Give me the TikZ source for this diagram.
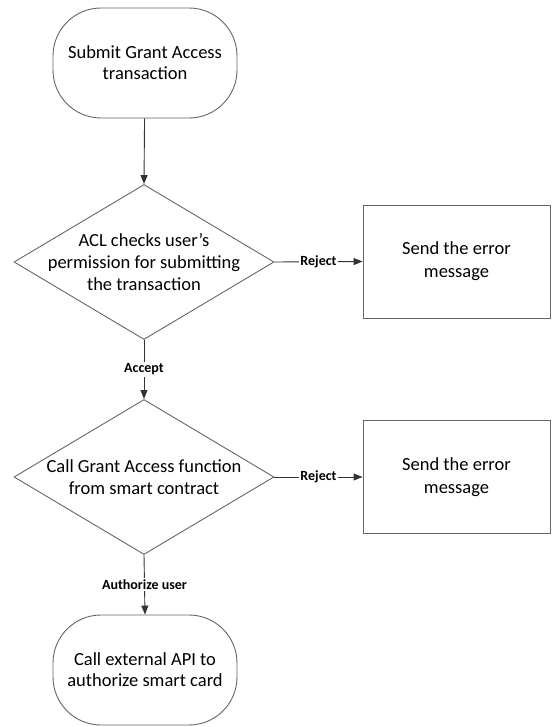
\documentclass[tikz,border=0pt]{standalone}
\usepackage{fontspec}
\setmainfont{Carlito}
\usetikzlibrary{shapes.geometric,arrows.meta}

\tikzset{
  terminal/.style={draw=black!60, line width=0.9pt, rectangle, rounded corners=48pt,
    minimum width=184pt, minimum height=110pt, align=center,
    font=\fontsize{18.5}{21}\selectfont},
  decision/.style={draw=black!60, line width=0.9pt, diamond, inner sep=0pt,
    minimum width=260pt, minimum height=155pt},
  dectext/.style={align=center, font=\fontsize{18.5}{22}\selectfont},
  msgbox/.style={draw=black!60, line width=0.9pt, rectangle, minimum width=187pt,
    minimum height=113pt, align=center, font=\fontsize{18.5}{23}\selectfont},
  flow/.style={draw=black!80, line width=0.9pt, -{Triangle[length=9pt,width=7pt]}},
  cond/.style={fill=white, inner sep=1.5pt, font=\bfseries\fontsize{14}{16}\selectfont}
}

\begin{document}
\begin{tikzpicture}[x=1pt, y=-1pt]
\useasboundingbox (0,0) rectangle (551,727);
% shapes
\node[terminal] (submit) at (145,63) {Submit Grant Access\\transaction};
\node[decision] (acl) at (144,262) {};
\node[dectext] (acltext) at (144,262) {ACL checks user's\\permission for submitting\\the transaction};
\node[msgbox] (error1) at (456.5,261.5) {Send the error\\message};
\node[decision] (grant) at (144,477) {};
\node[dectext] (granttext) at (144,477) {Call Grant Access function\\from smart contract};
\node[msgbox] (error2) at (456.5,477) {Send the error\\message};
\node[terminal] (api) at (145,670) {Call external API to\\authorize smart card};
% connectors
\draw[flow] (submit) -- (acl.north);
\draw[flow] (acl.east) -- node[cond] (reject1) {Reject} (error1.west);
\draw[flow] (acl.south) -- node[cond] (accept) {Accept} (grant.north);
\draw[flow] (grant.east) -- node[cond] (reject2) {Reject} (error2.west);
\draw[flow] (grant.south) -- node[cond] (authorize) {Authorize user} (api.north);
\end{tikzpicture}
\end{document}
